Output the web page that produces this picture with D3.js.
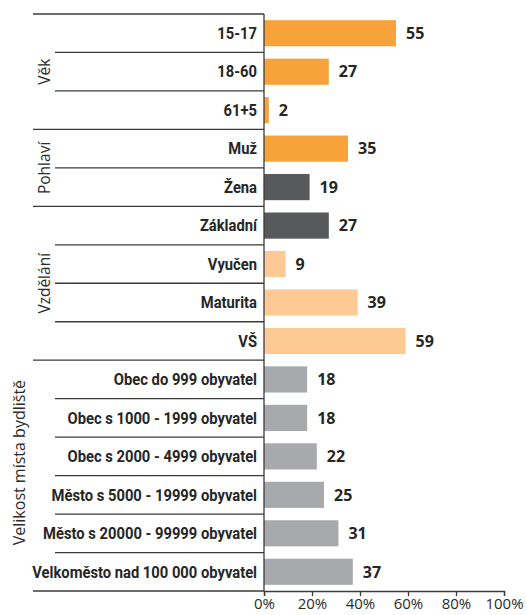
<!DOCTYPE html>
<html><head><meta charset="utf-8">
<script src="https://cdn.jsdelivr.net/npm/d3@7"></script>
<style>
html,body{margin:0;padding:0;background:#fff;}
svg{display:block;}
.cat{font-family:"Roboto","Open Sans",sans-serif;font-weight:bold;font-size:16px;fill:#262626;}
.val{font-family:"Open Sans","Roboto",sans-serif;font-weight:bold;font-size:16px;fill:#262626;}
.grp{font-family:"Open Sans","Roboto",sans-serif;font-size:15.5px;fill:#2b2b2b;}
.tick text{font-family:"Open Sans","Roboto",sans-serif;font-size:15px;fill:#2b2b2b;}
</style>
</head><body>
<svg id="chart" width="527" height="615"></svg>
<script>
const categories = ["15-17","18-60","61+5","Muž","Žena","Základní","Vyučen","Maturita","VŠ",
  "Obec do 999 obyvatel","Obec s 1000 - 1999 obyvatel","Obec s 2000 - 4999 obyvatel",
  "Město s 5000 - 19999 obyvatel","Město s 20000 - 99999 obyvatel","Velkoměsto nad 100 000 obyvatel"];
const values = [55,27,2,35,19,27,9,39,59,18,18,22,25,31,37];
const colorKeys = ["o","o","o","o","d","d","l","l","l","g","g","g","g","g","g"];
const groups = [
  {name:"Věk", start:0, end:2},
  {name:"Pohlaví", start:3, end:4},
  {name:"Vzdělání", start:5, end:8},
  {name:"Velikost místa bydliště", start:9, end:14}
];
const tickValues = [0,20,40,60,80,100];

const palette = {o:"#f7a23b", d:"#58595b", l:"#fdca96", g:"#a7a9ac"};

const svg = d3.select("#chart");
const x0 = 264, x1 = 504, yTop = 14, yBot = 591;
const x = d3.scaleLinear().domain([0,100]).range([x0,x1]);
const y = d3.scaleBand().domain(d3.range(categories.length)).range([yTop,yBot]).paddingInner(0.32).paddingOuter(0.16);
const rowH = (yBot-yTop)/categories.length;
const rowTop = i => yTop + i*rowH;

const lineColor = "#3a3a3a";
const starts = new Set(groups.map(g=>g.start));
for (let i=0;i<=categories.length;i++){
  const isGroup = i===categories.length || starts.has(i);
  svg.append("line").attr("x1", isGroup?33:55).attr("x2", x0)
    .attr("y1", rowTop(i)).attr("y2", rowTop(i))
    .attr("stroke", lineColor).attr("stroke-width", 1.3);
}

// bars
svg.selectAll("rect.bar").data(values).join("rect").attr("class","bar")
  .attr("x", x(0)).attr("width", d=>x(d)-x(0))
  .attr("y", (d,i)=>y(i)).attr("height", y.bandwidth())
  .attr("fill", (d,i)=>palette[colorKeys[i]]);

// values
svg.selectAll("text.val").data(values).join("text").attr("class","val")
  .attr("x", d=>x(d)+10).attr("y",(d,i)=>y(i)+y.bandwidth()/2).attr("dy","0.36em")
  .text(d=>d);

// category labels (horizontally condensed to match the reference's narrow face)
const cats = svg.selectAll("text.cat").data(categories).join("text").attr("class","cat")
  .attr("x", 0).attr("y", 0).attr("dy","0.36em")
  .attr("text-anchor","end").text(d=>d);
let maxLen = 0;
cats.each(function(){ maxLen = Math.max(maxLen, this.getComputedTextLength()); });
const sx = Math.min(1, 225/maxLen);
cats.attr("transform",(d,i)=>`translate(257,${y(i)+y.bandwidth()/2}) scale(${sx},1)`);

// group labels
groups.forEach((g,gi)=>{
  const last = gi === groups.length-1;
  let cy = (rowTop(g.start)+rowTop(g.end+1))/2;
  if (last) cy -= 13;
  svg.append("text").attr("class","grp")
    .attr("text-anchor","middle")
    .attr("transform",`translate(${last?25:50},${cy}) rotate(-90)`)
    .style("font-size", last ? "16px" : null)
    .text(g.name);
});

// vertical axis line
svg.append("line").attr("x1",x0).attr("x2",x0).attr("y1",yTop).attr("y2",yBot)
  .attr("stroke",lineColor).attr("stroke-width",1.3);

// x axis
const axis = d3.axisBottom(x).tickValues(tickValues).tickFormat(d=>d+"%").tickSizeOuter(0).tickSize(5).tickPadding(2);
const g = svg.append("g").attr("transform",`translate(0,${yBot})`).call(axis);
g.select(".domain").attr("stroke",lineColor).attr("stroke-width",1.3);
g.selectAll(".tick line").attr("stroke",lineColor).attr("stroke-width",1.3);
</script>
</body></html>
